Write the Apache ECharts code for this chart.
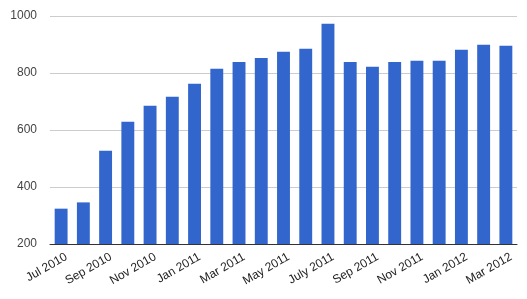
<!DOCTYPE html>
<html><head><meta charset="utf-8">
<script src="https://cdn.jsdelivr.net/npm/echarts@6/dist/echarts.min.js"></script>
<style>html,body{margin:0;padding:0;background:#fff}#c{width:527px;height:299px}</style>
</head><body><div id="c"></div>
<script>
var categories = ["Jul 2010","Aug 2010","Sep 2010","Oct 2010","Nov 2010","Dec 2010","Jan 2011","Feb 2011","Mar 2011","Apr 2011","May 2011","Jun 2011","July 2011","Aug 2011","Sep 2011","Oct 2011","Nov 2011","Dec 2011","Jan 2012","Feb 2012","Mar 2012"];
var values = [324,346,527,629,685,717,762,815,839,853,875,885,973,839,822,839,843,843,882,899,896];
var yTicks = [200,400,600,800,1000];
var chart = echarts.init(document.getElementById('c'));
chart.setOption({
  animation:false,
  grid:{left:50,right:10,top:16,bottom:55,containLabel:false},
  xAxis:{type:'category',data:categories,
    axisLine:{lineStyle:{color:'#333',width:1}},
    axisTick:{show:false},
    axisLabel:{interval:1,rotate:30,color:'#222',fontFamily:'Arial, Liberation Sans',fontSize:12,margin:15,padding:[0,-6,0,0]}
  },
  yAxis:{type:'value',min:yTicks[0],max:yTicks[yTicks.length-1],interval:200,
    axisLine:{show:false},axisTick:{show:false},
    splitLine:{lineStyle:{color:'#ccc'}},
    axisLabel:{color:'#444',fontFamily:'Arial, Liberation Sans',fontSize:12,margin:13,formatter:function(v){return String(v);}}
  },
  series:[{type:'bar',data:values,barWidth:'58%',itemStyle:{color:'#3366cc'}}]
});
</script></body></html>
